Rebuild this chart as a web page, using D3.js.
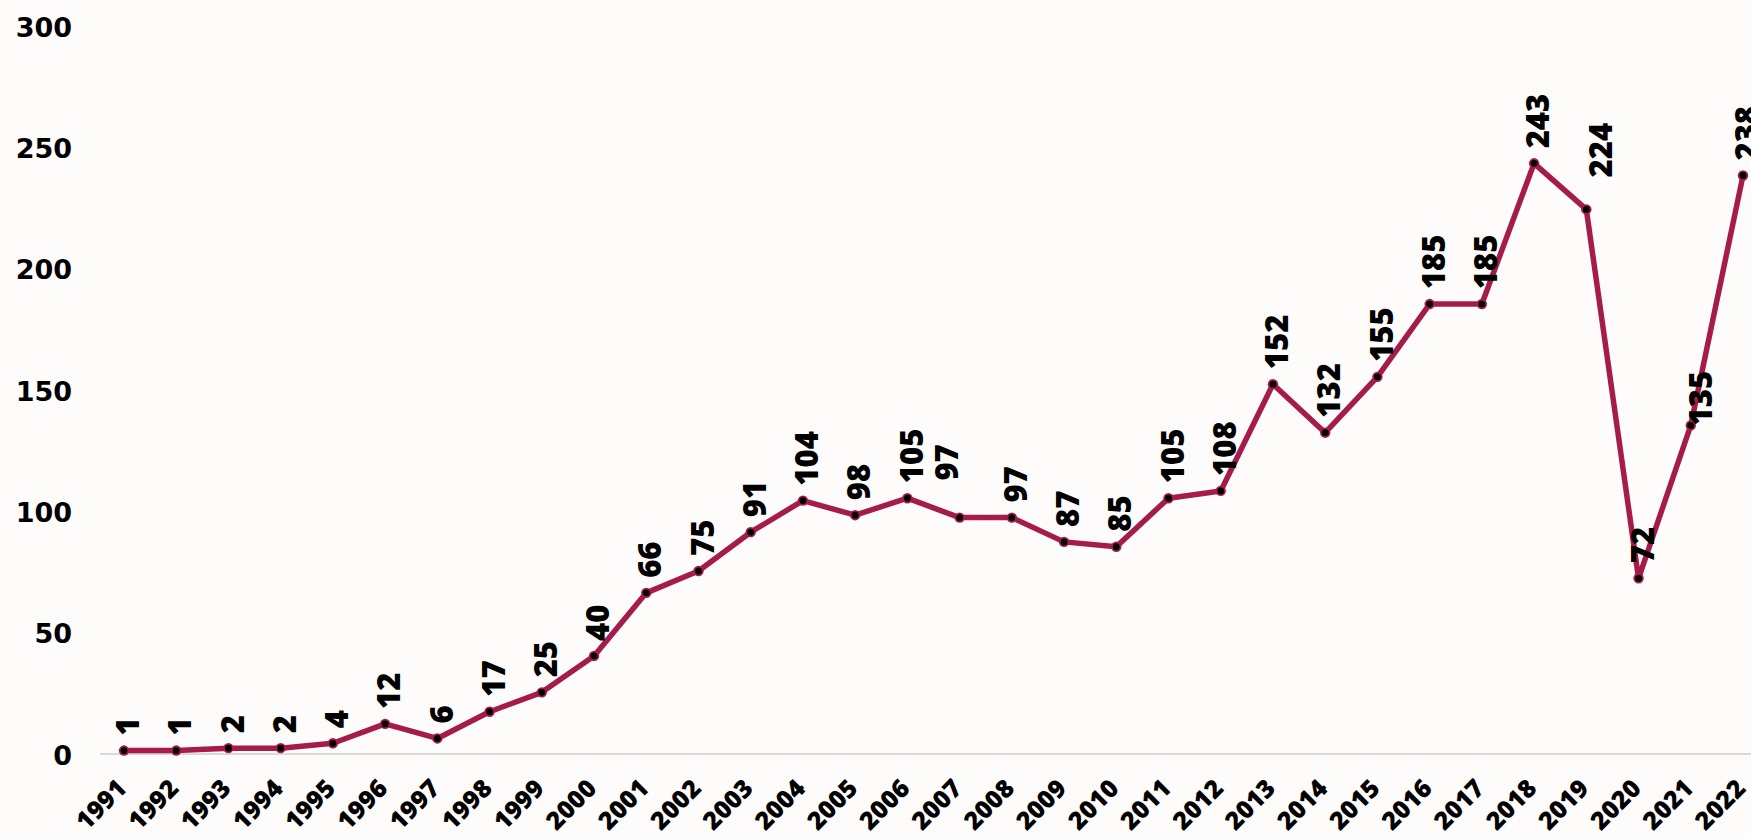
<!DOCTYPE html>
<html>
<head>
<meta charset="utf-8">
<script src="https://cdnjs.cloudflare.com/ajax/libs/d3/7.8.5/d3.min.js"></script>
<style>
    html, body { margin: 0; padding: 0; background: #fdfcfa; overflow: hidden; }
    svg { display: block; }
</style>
</head>
<body>
<div id="chart"></div>
<script>
// years on the x axis
const years  = d3.range(1991, 2023);
// one value per year
const values = [1, 1, 2, 2, 4, 12, 6, 17, 25, 40, 66, 75, 91, 104, 98, 105, 97, 97, 87, 85,
                105, 108, 152, 132, 155, 185, 185, 243, 224, 72, 135, 238];
const yTicks = [0, 50, 100, 150, 200, 250, 300];

const WIDTH  = 1751,
      HEIGHT = 839,
      LINE   = "#a51c4a";

// a few labels were moved by hand in the original, [dx, gap above point]
const labelMove = { 2007: [-13, 37], 2019: [15, 32], 2021: [10, 0] };

const svg = d3.select("#chart")
              .append("svg")
              .attr("width", WIDTH)
              .attr("height", HEIGHT);

svg.append("rect")
   .attr("width", WIDTH)
   .attr("height", HEIGHT)
   .attr("fill", "#fdfcfa");

const x = d3.scalePoint().domain(years).range([124, 1743]);
const y = d3.scaleLinear().domain([0, 300]).range([753, 25]);

// only the zero line is drawn
svg.append("line")
   .attr("x1", 100).attr("x2", WIDTH)
   .attr("y1", y(0) + 1).attr("y2", y(0) + 1)
   .attr("stroke", "#d9d9d9")
   .attr("stroke-width", 2);

// y axis labels
svg.selectAll(".ytick")
   .data(yTicks)
   .enter()
   .append("text")
       .attr("class", "ytick")
       .attr("x", 72)
       .attr("y", d => y(d) + 2)
       .attr("dominant-baseline", "central")
       .attr("text-anchor", "end")
       .style("font-family", "'DejaVu Sans', sans-serif")
       .style("font-weight", "bold")
       .style("font-size", "27px")
       .attr("fill", "#000")
       .text(d => d);

// x axis labels, turned 45 degrees
svg.selectAll(".xtick")
   .data(years)
   .enter()
   .append("text")
       .attr("class", "xtick")
       .attr("text-anchor", "end")
       .attr("transform", d => "translate(" + (x(d) + 4) + ",790) rotate(-45)")
       .style("font-family", "'Open Sans', sans-serif")
       .style("font-weight", "800")
       .style("font-size", "25px")
       .attr("fill", "#000")
       .text(d => d);

const data = years.map((yr, i) => ({ year: yr, value: values[i] }));

const line = d3.line()
               .x(d => x(d.year))
               .y(d => y(d.value));

svg.append("path")
   .datum(data)
   .attr("d", line)
   .attr("fill", "none")
   .attr("stroke", LINE)
   .attr("stroke-width", 5.5)
   .attr("stroke-linejoin", "round");

// markers: maroon ring with black centre
const dots = svg.selectAll(".dot")
                .data(data)
                .enter()
                .append("g")
                .attr("class", "dot")
                .attr("transform", d => "translate(" + x(d.year) + "," + y(d.value) + ")");
dots.append("circle").attr("r", 5.2).attr("fill", LINE);
dots.append("circle").attr("r", 3.4).attr("fill", "#000");

// value labels, vertical
svg.selectAll(".val")
   .data(data)
   .enter()
   .append("text")
       .attr("class", "val")
       .attr("transform", d => {
           const m = labelMove[d.year] || [4, 15];
           return "translate(" + (x(d.year) + m[0]) + "," + (y(d.value) - m[1]) + ") rotate(-90)";
       })
       .attr("dy", "0.36em")
       .attr("text-anchor", "start")
       .style("font-family", "'Open Sans', sans-serif")
       .style("font-weight", "800")
       .style("font-size", "31px")
       .attr("fill", "#000")
       .text(d => d.value);
</script>
</body>
</html>
